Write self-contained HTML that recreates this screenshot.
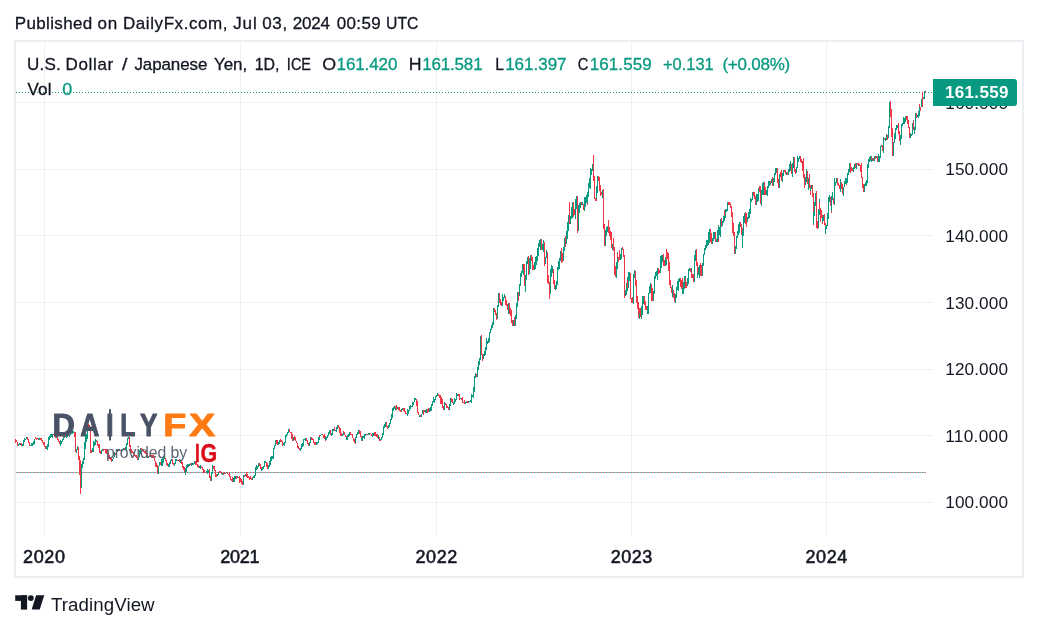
<!DOCTYPE html>
<html><head><meta charset="utf-8"><title>USDJPY chart</title>
<style>
html,body{margin:0;padding:0;background:#fff;}
body{width:1038px;height:630px;position:relative;overflow:hidden;}
#frame{position:absolute;left:14px;top:40px;width:1006px;height:534px;border:2px solid #eceef3;}
svg{position:absolute;left:0;top:0;font-family:"Liberation Sans",sans-serif;}
</style></head><body>
<div id="frame"></div>
<svg width="1038" height="630" viewBox="0 0 1038 630">
<rect x="44" y="42" width="1" height="493" fill="#f0f0f2"/><rect x="240" y="42" width="1" height="493" fill="#f0f0f2"/><rect x="436" y="42" width="1" height="493" fill="#f0f0f2"/><rect x="631" y="42" width="1" height="493" fill="#f0f0f2"/><rect x="826" y="42" width="1" height="493" fill="#f0f0f2"/><rect x="16" y="102" width="917" height="1" fill="#f0f0f2"/><rect x="16" y="169" width="917" height="1" fill="#f0f0f2"/><rect x="16" y="235" width="917" height="1" fill="#f0f0f2"/><rect x="16" y="302" width="917" height="1" fill="#f0f0f2"/><rect x="16" y="369" width="917" height="1" fill="#f0f0f2"/><rect x="16" y="435" width="917" height="1" fill="#f0f0f2"/><rect x="16" y="502" width="917" height="1" fill="#f0f0f2"/>
<line x1="16" y1="472.5" x2="926" y2="472.5" stroke="#4db8a9" stroke-width="1" opacity="0.5"/>
<line x1="16" y1="472.5" x2="926" y2="472.5" stroke="#f23645" stroke-width="1" stroke-dasharray="1.2 1.8" opacity="0.75"/>
<line x1="17.5" y1="472.5" x2="926" y2="472.5" stroke="#089981" stroke-width="1" stroke-dasharray="1 2" opacity="0.5"/>
<line x1="16" y1="92.5" x2="933" y2="92.5" stroke="#089981" stroke-width="1" stroke-dasharray="1 2"/>
<g stroke-width="1" fill="none" shape-rendering="crispEdges"><path d="M15.5 439V443M16.5 440V442M17.5 442V444M17.5 442V446" stroke="#f23645"/><path d="M18.5 444V446M19.5 443V445M20.5 443V445" stroke="#089981"/><path d="M20.5 443V444M21.5 443V446" stroke="#f23645"/><path d="M22.5 444V446M23.5 440V446M23.5 440V444M24.5 438V442M25.5 439V440M26.5 438V439M26.5 437V439" stroke="#089981"/><path d="M27.5 437V440M28.5 439V443M29.5 442V446M29.5 444V446" stroke="#f23645"/><path d="M30.5 445V446M31.5 443V446M32.5 443V446M32.5 443V445M33.5 441V445M34.5 439V444M35.5 438V439" stroke="#089981"/><path d="M35.5 437V439M36.5 438V440M37.5 438V439" stroke="#f23645"/><path d="M38.5 438V440" stroke="#089981"/><path d="M38.5 439V440" stroke="#f23645"/><path d="M39.5 438V440" stroke="#089981"/><path d="M40.5 438V440M41.5 438V439M41.5 438V441M42.5 440V443M43.5 442V445M44.5 442V446M44.5 444V447M45.5 446V449" stroke="#f23645"/><path d="M46.5 446V449" stroke="#089981"/><path d="M47.5 447V450" stroke="#f23645"/><path d="M47.5 444V450M48.5 437V447M49.5 436V440M50.5 436V438M50.5 434V437M51.5 434V437M52.5 434V438" stroke="#089981"/><path d="M53.5 434V435M54.5 434V436M54.5 434V437M55.5 434V438" stroke="#f23645"/><path d="M56.5 436V438" stroke="#089981"/><path d="M57.5 436V440M57.5 437V440M58.5 439V442M59.5 441V444M60.5 442V445" stroke="#f23645"/><path d="M60.5 440V446M61.5 441V444M62.5 439V442M63.5 436V440" stroke="#089981"/><path d="M63.5 437V438" stroke="#f23645"/><path d="M64.5 436V438" stroke="#089981"/><path d="M65.5 436V437" stroke="#f23645"/><path d="M66.5 435V438M66.5 436V437M67.5 435V437" stroke="#089981"/><path d="M68.5 435V436" stroke="#f23645"/><path d="M69.5 435V436M69.5 434V437M70.5 434V435M71.5 432V434" stroke="#089981"/><path d="M72.5 431V434" stroke="#f23645"/><path d="M72.5 431V434M73.5 431V433" stroke="#089981"/><path d="M74.5 432V437M75.5 432V441M75.5 439V452" stroke="#f23645"/><path d="M76.5 449V453M77.5 446V450" stroke="#089981"/><path d="M78.5 447V452M78.5 451V460M79.5 456V475M80.5 460V494" stroke="#f23645"/><path d="M81.5 464V488M81.5 464V472M82.5 461V468M83.5 458V464M84.5 449V460M84.5 442V452M85.5 434V449M86.5 434V442M87.5 429V439M87.5 425V433" stroke="#089981"/><path d="M88.5 424V427M89.5 425V429M90.5 427V447M90.5 444V453M91.5 450V453" stroke="#f23645"/><path d="M92.5 448V452M93.5 446V452M93.5 441V448M94.5 442V446M95.5 439V445M96.5 440V442" stroke="#089981"/><path d="M96.5 441V442M97.5 441V446M98.5 444V448M99.5 444V450M99.5 448V453M100.5 451V454" stroke="#f23645"/><path d="M101.5 450V454M102.5 449V451M102.5 449V451" stroke="#089981"/><path d="M103.5 449V451M104.5 449V450M105.5 450V452M105.5 449V453M106.5 449V454M107.5 453V455M108.5 452V459M108.5 455V457M109.5 455V459M110.5 457V460M111.5 458V461M111.5 459V462" stroke="#f23645"/><path d="M112.5 459V461M113.5 457V459M114.5 455V457M114.5 452V456" stroke="#089981"/><path d="M115.5 453V455" stroke="#f23645"/><path d="M116.5 451V453M117.5 449V452M118.5 449V451" stroke="#089981"/><path d="M118.5 449V451" stroke="#f23645"/><path d="M119.5 449V451" stroke="#089981"/><path d="M120.5 450V451" stroke="#f23645"/><path d="M121.5 450V451M121.5 449V451M122.5 449V450M123.5 448V450" stroke="#089981"/><path d="M124.5 448V450M124.5 449V450" stroke="#f23645"/><path d="M125.5 447V450M126.5 443V450M127.5 440V445M127.5 438V442M128.5 437V439" stroke="#089981"/><path d="M129.5 437V447M130.5 445V452M130.5 449V451M131.5 449V453M132.5 451V453M133.5 452V455M133.5 453V457M134.5 454V456M135.5 455V457M136.5 455V457M136.5 457V458M137.5 457V460" stroke="#f23645"/><path d="M138.5 456V460M139.5 453V457M139.5 450V457M140.5 448V454" stroke="#089981"/><path d="M141.5 448V450M142.5 449V450M142.5 450V451M143.5 450V452M144.5 451V453M145.5 451V453M145.5 452V454M146.5 453V455M147.5 453V458" stroke="#f23645"/><path d="M148.5 456V458M148.5 456V457" stroke="#089981"/><path d="M149.5 455V457" stroke="#f23645"/><path d="M150.5 456V457M151.5 455V457" stroke="#089981"/><path d="M151.5 455V458M152.5 455V458M153.5 455V458M154.5 456V458M154.5 456V461M155.5 461V467M156.5 463V467M157.5 465V471M157.5 467V474" stroke="#f23645"/><path d="M158.5 466V474M159.5 462V466" stroke="#089981"/><path d="M160.5 462V465M160.5 462V465" stroke="#f23645"/><path d="M161.5 459V466M162.5 458V466M163.5 456V463M163.5 456V461M164.5 457V459" stroke="#089981"/><path d="M165.5 458V461M166.5 460V462M166.5 461V465M167.5 463V466" stroke="#f23645"/><path d="M168.5 464V467M169.5 463V467M169.5 462V467M170.5 460V464M171.5 459V461" stroke="#089981"/><path d="M172.5 459V461M172.5 460V464M173.5 463V465" stroke="#f23645"/><path d="M174.5 463V466M175.5 461V464M175.5 459V464M176.5 459V461" stroke="#089981"/><path d="M177.5 460V461" stroke="#f23645"/><path d="M178.5 460V461" stroke="#089981"/><path d="M179.5 459V461M179.5 460V462" stroke="#f23645"/><path d="M180.5 460V463" stroke="#089981"/><path d="M181.5 460V464M182.5 462V466M182.5 465V468M183.5 466V470M184.5 467V472M185.5 471V475" stroke="#f23645"/><path d="M185.5 468V475M186.5 465V472M187.5 464V468" stroke="#089981"/><path d="M188.5 464V467" stroke="#f23645"/><path d="M188.5 464V466M189.5 464V466" stroke="#089981"/><path d="M190.5 463V465" stroke="#f23645"/><path d="M191.5 463V466M191.5 464V465M192.5 463V465M193.5 463V465" stroke="#089981"/><path d="M194.5 461V463" stroke="#f23645"/><path d="M194.5 461V464" stroke="#089981"/><path d="M195.5 461V465M196.5 462V465M197.5 464V465M197.5 465V467M198.5 465V468" stroke="#f23645"/><path d="M199.5 466V468M200.5 466V469M200.5 465V468" stroke="#089981"/><path d="M201.5 466V468M202.5 467V470M203.5 469V473M203.5 471V472M204.5 470V473" stroke="#f23645"/><path d="M205.5 472V473M206.5 471V473" stroke="#089981"/><path d="M206.5 472V473" stroke="#f23645"/><path d="M207.5 469V474M208.5 470V473" stroke="#089981"/><path d="M209.5 469V474M209.5 472V478M210.5 476V481" stroke="#f23645"/><path d="M211.5 472V481M212.5 467V474M212.5 465V469" stroke="#089981"/><path d="M213.5 466V469M214.5 466V471M215.5 470V477M215.5 471V475M216.5 474V477" stroke="#f23645"/><path d="M217.5 474V476M218.5 472V475M218.5 472V473" stroke="#089981"/><path d="M219.5 471V473M220.5 471V473M221.5 472V474" stroke="#f23645"/><path d="M221.5 473V474M222.5 473V475" stroke="#089981"/><path d="M223.5 473V475M224.5 472V474" stroke="#f23645"/><path d="M224.5 473V474" stroke="#089981"/><path d="M225.5 473V474" stroke="#f23645"/><path d="M226.5 472V473M227.5 472V473" stroke="#089981"/><path d="M227.5 472V474M228.5 474V475M229.5 473V477M230.5 476V479M230.5 478V480M231.5 479V481M232.5 477V482" stroke="#f23645"/><path d="M233.5 480V482M233.5 478V481M234.5 476V482M235.5 476V479M236.5 476V478" stroke="#089981"/><path d="M236.5 476V479" stroke="#f23645"/><path d="M237.5 476V478" stroke="#089981"/><path d="M238.5 477V478M239.5 476V480M239.5 478V483M240.5 478V482M241.5 479V484M242.5 481V485" stroke="#f23645"/><path d="M243.5 479V485M243.5 475V483" stroke="#089981"/><path d="M244.5 475V477" stroke="#f23645"/><path d="M245.5 474V476M246.5 472V475" stroke="#089981"/><path d="M246.5 472V477M247.5 474V478M248.5 476V478M249.5 477V478M249.5 478V480M250.5 476V479M251.5 478V480" stroke="#f23645"/><path d="M252.5 477V480" stroke="#089981"/><path d="M252.5 477V478" stroke="#f23645"/><path d="M253.5 476V478M254.5 475V478M255.5 471V476M255.5 467V473M256.5 465V470M257.5 466V469M258.5 464V467M258.5 463V467" stroke="#089981"/><path d="M259.5 463V466M260.5 464V469M261.5 467V471" stroke="#f23645"/><path d="M261.5 469V471M262.5 467V470M263.5 466V469M264.5 463V467M264.5 461V465M265.5 461V463" stroke="#089981"/><path d="M266.5 462V467M267.5 463V466M267.5 465V469" stroke="#f23645"/><path d="M268.5 465V469M269.5 461V467M270.5 460V465M270.5 457V463M271.5 456V461M272.5 456V459M273.5 454V459M273.5 448V455M274.5 445V449M275.5 440V446" stroke="#089981"/><path d="M276.5 440V442M276.5 442V444M277.5 440V445" stroke="#f23645"/><path d="M278.5 442V445M279.5 441V444M279.5 440V442" stroke="#089981"/><path d="M280.5 439V442M281.5 440V442M282.5 442V443M282.5 441V446" stroke="#f23645"/><path d="M283.5 443V445M284.5 442V446M285.5 435V443M285.5 436V440M286.5 434V437M287.5 432V435M288.5 429V433M288.5 430V432" stroke="#089981"/><path d="M289.5 429V432M290.5 432V433M291.5 432V436M291.5 435V439M292.5 434V441" stroke="#f23645"/><path d="M293.5 437V441M294.5 436V438" stroke="#089981"/><path d="M294.5 436V440M295.5 437V441M296.5 441V443M297.5 443V445M297.5 443V448M298.5 446V449M299.5 448V450M300.5 448V451" stroke="#f23645"/><path d="M300.5 448V451M301.5 444V449M302.5 443V447M303.5 442V446M303.5 439V443M304.5 439V440M305.5 438V441" stroke="#089981"/><path d="M306.5 438V441M307.5 440V444M307.5 441V444M308.5 443V446" stroke="#f23645"/><path d="M309.5 442V446M310.5 440V443M310.5 437V441" stroke="#089981"/><path d="M311.5 437V440M312.5 438V440M313.5 439V443M313.5 440V442M314.5 442V445M315.5 442V445M316.5 443V445" stroke="#f23645"/><path d="M316.5 442V445M317.5 442V444M318.5 437V443M319.5 436V440" stroke="#089981"/><path d="M319.5 435V437" stroke="#f23645"/><path d="M320.5 435V436M321.5 434V435" stroke="#089981"/><path d="M322.5 434V435M322.5 434V435M323.5 435V438M324.5 434V439M325.5 436V441" stroke="#f23645"/><path d="M325.5 437V440M326.5 437V440M327.5 435V438M328.5 432V436M328.5 432V435M329.5 430V434" stroke="#089981"/><path d="M330.5 430V435M331.5 433V436" stroke="#f23645"/><path d="M331.5 433V436M332.5 429V435M333.5 429V431" stroke="#089981"/><path d="M334.5 430V431M334.5 427V431" stroke="#f23645"/><path d="M335.5 430V431M336.5 427V432M337.5 425V429M337.5 425V427" stroke="#089981"/><path d="M338.5 425V428M339.5 427V433M340.5 428V434M340.5 429V436M341.5 433V436" stroke="#f23645"/><path d="M342.5 434V436M343.5 432V435" stroke="#089981"/><path d="M343.5 431V433M344.5 432V435M345.5 435V437M346.5 436V440" stroke="#f23645"/><path d="M346.5 437V440M347.5 435V440M348.5 434V437M349.5 432V436M349.5 432V433" stroke="#089981"/><path d="M350.5 432V435M351.5 434V435M352.5 434V438M352.5 436V438M353.5 438V441M354.5 439V443M355.5 438V444" stroke="#f23645"/><path d="M355.5 437V443M356.5 434V438M357.5 432V435M358.5 430V434M358.5 430V432" stroke="#089981"/><path d="M359.5 430V434M360.5 431V437M361.5 436V441" stroke="#f23645"/><path d="M361.5 438V440M362.5 436V441M363.5 436V438M364.5 435V439M364.5 434V436M365.5 434V436" stroke="#089981"/><path d="M366.5 434V435" stroke="#f23645"/><path d="M367.5 434V435M368.5 433V435" stroke="#089981"/><path d="M368.5 434V435" stroke="#f23645"/><path d="M369.5 433V435" stroke="#089981"/><path d="M370.5 433V434M371.5 434V435M371.5 434V436" stroke="#f23645"/><path d="M372.5 433V437M373.5 433V436M374.5 432V435" stroke="#089981"/><path d="M374.5 432V436M375.5 432V436M376.5 434V437M377.5 434V437M377.5 435V438" stroke="#f23645"/><path d="M378.5 435V439" stroke="#089981"/><path d="M379.5 437V441" stroke="#f23645"/><path d="M380.5 439V440" stroke="#089981"/><path d="M380.5 440V441" stroke="#f23645"/><path d="M381.5 437V440M382.5 433V438M383.5 430V435M383.5 426V431M384.5 424V428M385.5 422V427" stroke="#089981"/><path d="M386.5 422V426M386.5 424V427M387.5 426V429" stroke="#f23645"/><path d="M388.5 425V428M389.5 424V427M389.5 423V426M390.5 419V424M391.5 414V420M392.5 410V418M392.5 408V412M393.5 407V411M394.5 406V409M395.5 406V410" stroke="#089981"/><path d="M395.5 406V408M396.5 405V410" stroke="#f23645"/><path d="M397.5 407V409" stroke="#089981"/><path d="M398.5 408V410M398.5 407V410M399.5 407V411M400.5 410V412M401.5 410V412" stroke="#f23645"/><path d="M401.5 409V411M402.5 408V410" stroke="#089981"/><path d="M403.5 408V411M404.5 408V411M404.5 410V412M405.5 411V414M406.5 413V414M407.5 411V416" stroke="#f23645"/><path d="M407.5 409V416M408.5 410V414M409.5 406V411M410.5 407V409M410.5 405V409M411.5 406V407M412.5 402V407M413.5 403V405M413.5 402V404M414.5 398V402M415.5 398V400" stroke="#089981"/><path d="M416.5 399V403M416.5 399V406M417.5 401V413M418.5 412V415M419.5 415V417" stroke="#f23645"/><path d="M419.5 415V417" stroke="#089981"/><path d="M420.5 415V417" stroke="#f23645"/><path d="M421.5 414V417M422.5 410V414M422.5 410V413" stroke="#089981"/><path d="M423.5 410V415M424.5 410V412M425.5 412V413" stroke="#f23645"/><path d="M425.5 410V413M426.5 409V413" stroke="#089981"/><path d="M427.5 409V413M428.5 408V410M428.5 409V412" stroke="#f23645"/><path d="M429.5 408V412M430.5 407V411M431.5 404V411M432.5 403V406M432.5 401V405M433.5 397V402M434.5 399V403M435.5 398V400M435.5 396V398M436.5 395V397M437.5 393V396" stroke="#089981"/><path d="M438.5 394V395M438.5 394V396M439.5 395V398M440.5 395V404M441.5 397V401M441.5 399V404M442.5 399V408M443.5 406V410" stroke="#f23645"/><path d="M444.5 404V410M444.5 402V405" stroke="#089981"/><path d="M445.5 403V405M446.5 404V408M447.5 406V408M447.5 406V408M448.5 407V410" stroke="#f23645"/><path d="M449.5 404V410M450.5 398V406M450.5 398V403" stroke="#089981"/><path d="M451.5 398V402M452.5 399V403M453.5 402V404" stroke="#f23645"/><path d="M453.5 402V405M454.5 398V404M455.5 399V402M456.5 397V400M456.5 393V399M457.5 394V396" stroke="#089981"/><path d="M458.5 394V396M459.5 394V397M459.5 397V400" stroke="#f23645"/><path d="M460.5 398V399" stroke="#089981"/><path d="M461.5 398V400M462.5 397V402M462.5 401V403M463.5 402V403M464.5 400V404" stroke="#f23645"/><path d="M465.5 403V404M465.5 402V404M466.5 401V403" stroke="#089981"/><path d="M467.5 401V403M468.5 401V403" stroke="#f23645"/><path d="M468.5 401V402M469.5 401V402M470.5 400V402M471.5 398V403M471.5 394V400M472.5 395V397M473.5 387V398M474.5 379V392M474.5 376V390M475.5 373V378" stroke="#089981"/><path d="M476.5 374V377" stroke="#f23645"/><path d="M477.5 371V377M477.5 367V375M478.5 361V370M479.5 358V365M480.5 345V360M480.5 336V349" stroke="#089981"/><path d="M481.5 335V355M482.5 354V361M483.5 354V358" stroke="#f23645"/><path d="M483.5 354V359M484.5 351V356M485.5 347V355M486.5 343V350M486.5 338V345M487.5 341V344M488.5 338V343M489.5 333V342M489.5 332V337M490.5 329V333M491.5 325V330M492.5 322V328M493.5 316V323M493.5 308V325" stroke="#089981"/><path d="M494.5 308V312M495.5 310V315M496.5 313V316M496.5 314V320" stroke="#f23645"/><path d="M497.5 305V319M498.5 293V307" stroke="#089981"/><path d="M499.5 293V302M499.5 297V303M500.5 299V305M501.5 302V306" stroke="#f23645"/><path d="M502.5 294V306M502.5 297V304M503.5 297V301M504.5 294V298" stroke="#089981"/><path d="M505.5 296V301M505.5 299V305M506.5 300V306M507.5 304V310" stroke="#f23645"/><path d="M508.5 306V310M508.5 303V314" stroke="#089981"/><path d="M509.5 303V314M510.5 308V316M511.5 310V319M511.5 317V323M512.5 320V326" stroke="#f23645"/><path d="M513.5 320V326M514.5 319V323" stroke="#089981"/><path d="M514.5 317V326" stroke="#f23645"/><path d="M515.5 315V326M516.5 303V319M517.5 296V307M517.5 292V302" stroke="#089981"/><path d="M518.5 292V301" stroke="#f23645"/><path d="M519.5 284V296M520.5 276V286M520.5 273V281M521.5 271V277M522.5 264V273M523.5 264V275" stroke="#089981"/><path d="M523.5 264V270M524.5 264V286" stroke="#f23645"/><path d="M525.5 275V292M526.5 268V280M526.5 261V271M527.5 257V264" stroke="#089981"/><path d="M528.5 256V275" stroke="#f23645"/><path d="M529.5 266V274M529.5 258V274M530.5 255V269" stroke="#089981"/><path d="M531.5 255V261M532.5 257V263M532.5 259V270M533.5 265V270" stroke="#f23645"/><path d="M534.5 262V270M535.5 262V269M535.5 257V266M536.5 256V265M537.5 248V261M538.5 245V256M538.5 243V251M539.5 240V247M540.5 239V250" stroke="#089981"/><path d="M541.5 239V250M541.5 241V249" stroke="#f23645"/><path d="M542.5 244V250M543.5 240V252" stroke="#089981"/><path d="M544.5 242V258M544.5 255V266" stroke="#f23645"/><path d="M545.5 257V264M546.5 250V258" stroke="#089981"/><path d="M547.5 252V267M547.5 264V283M548.5 275V284M549.5 282V299" stroke="#f23645"/><path d="M550.5 284V294M550.5 269V285M551.5 265V277M552.5 266V273" stroke="#089981"/><path d="M553.5 269V280M553.5 276V284M554.5 280V289" stroke="#f23645"/><path d="M555.5 285V290M556.5 281V289M557.5 270V285M557.5 267V276M558.5 261V270M559.5 258V269M560.5 253V261M560.5 251V258" stroke="#089981"/><path d="M561.5 248V263M562.5 253V262" stroke="#f23645"/><path d="M563.5 255V261M563.5 247V259M564.5 238V251" stroke="#089981"/><path d="M565.5 236V247" stroke="#f23645"/><path d="M566.5 235V242M566.5 231V244M567.5 222V239M568.5 215V231M569.5 202V215" stroke="#089981"/><path d="M569.5 202V224" stroke="#f23645"/><path d="M570.5 216V224M571.5 207V219M572.5 205V218M572.5 202V209" stroke="#089981"/><path d="M573.5 202V217M574.5 209V215" stroke="#f23645"/><path d="M575.5 210V219M575.5 199V216M576.5 196V209" stroke="#089981"/><path d="M577.5 196V233" stroke="#f23645"/><path d="M578.5 218V231M578.5 205V224M579.5 203V213M580.5 202V208" stroke="#089981"/><path d="M581.5 202V203M581.5 202V205" stroke="#f23645"/><path d="M582.5 202V205" stroke="#089981"/><path d="M583.5 204V210M584.5 205V210" stroke="#f23645"/><path d="M584.5 197V211M585.5 197V207M586.5 195V203" stroke="#089981"/><path d="M587.5 192V205" stroke="#f23645"/><path d="M587.5 192V203M588.5 183V197M589.5 178V188M590.5 172V189M590.5 168V180M591.5 169V175M592.5 164V171M593.5 155V171" stroke="#089981"/><path d="M593.5 155V181M594.5 176V199M595.5 198V201M596.5 196V201" stroke="#f23645"/><path d="M596.5 186V199M597.5 176V193" stroke="#089981"/><path d="M598.5 176V181M599.5 177V184M599.5 178V191M600.5 185V196M601.5 192V195" stroke="#f23645"/><path d="M602.5 191V198M602.5 190V193" stroke="#089981"/><path d="M603.5 189V229M604.5 224V246" stroke="#f23645"/><path d="M605.5 230V246M605.5 234V244M606.5 227V236M607.5 226V232M608.5 222V227" stroke="#089981"/><path d="M608.5 220V233M609.5 227V236M610.5 231V240M611.5 234V245M611.5 232V248" stroke="#f23645"/><path d="M612.5 244V250" stroke="#089981"/><path d="M613.5 238V251M614.5 247V257M614.5 256V275M615.5 266V277" stroke="#f23645"/><path d="M616.5 262V278M617.5 252V269" stroke="#089981"/><path d="M617.5 253V258M618.5 257V262M619.5 250V260" stroke="#f23645"/><path d="M620.5 254V260M621.5 248V259M621.5 248V253" stroke="#089981"/><path d="M622.5 247V250M623.5 249V257M624.5 255V274M624.5 268V298" stroke="#f23645"/><path d="M625.5 290V296M626.5 283V295M627.5 277V291" stroke="#089981"/><path d="M627.5 280V288" stroke="#f23645"/><path d="M628.5 272V288M629.5 272V281" stroke="#089981"/><path d="M630.5 273V288M630.5 283V299M631.5 298V303M632.5 297V303" stroke="#f23645"/><path d="M633.5 285V304M633.5 274V294M634.5 270V278" stroke="#089981"/><path d="M635.5 271V286M636.5 280V298M636.5 287V303M637.5 296V309M638.5 302V318M639.5 308V319" stroke="#f23645"/><path d="M639.5 313V319" stroke="#089981"/><path d="M640.5 308V317" stroke="#f23645"/><path d="M641.5 306V319M642.5 296V315M642.5 297V305M643.5 296V304" stroke="#089981"/><path d="M644.5 296V305M645.5 301V308M645.5 301V310M646.5 306V310" stroke="#f23645"/><path d="M647.5 306V314M648.5 297V314M648.5 293V299M649.5 286V294M650.5 283V293" stroke="#089981"/><path d="M651.5 284V290M651.5 285V301M652.5 288V301" stroke="#f23645"/><path d="M653.5 291V301M654.5 282V294M654.5 276V287M655.5 272V279M656.5 271V276" stroke="#089981"/><path d="M657.5 268V275" stroke="#f23645"/><path d="M657.5 268V280" stroke="#089981"/><path d="M658.5 268V274M659.5 270V273" stroke="#f23645"/><path d="M660.5 261V273M660.5 256V267M661.5 255V268M662.5 255V262" stroke="#089981"/><path d="M663.5 254V261M663.5 257V266M664.5 260V266" stroke="#f23645"/><path d="M665.5 257V266M666.5 249V265" stroke="#089981"/><path d="M666.5 249V260M667.5 252V259M668.5 253V271M669.5 262V281M669.5 266V285M670.5 280V288M671.5 287V293M672.5 290V297" stroke="#f23645"/><path d="M672.5 285V297" stroke="#089981"/><path d="M673.5 290V298M674.5 293V302" stroke="#f23645"/><path d="M675.5 300V303M675.5 294V303M676.5 287V298M677.5 281V290M678.5 283V291M678.5 279V285M679.5 278V282" stroke="#089981"/><path d="M680.5 278V287M681.5 280V289M682.5 278V294" stroke="#f23645"/><path d="M682.5 288V294M683.5 282V294M684.5 276V289M685.5 276V281" stroke="#089981"/><path d="M685.5 278V288M686.5 282V288" stroke="#f23645"/><path d="M687.5 278V286M688.5 272V284M688.5 269V276M689.5 268V271" stroke="#089981"/><path d="M690.5 268V272" stroke="#f23645"/><path d="M691.5 268V276" stroke="#089981"/><path d="M691.5 271V278M692.5 274V278M693.5 274V282" stroke="#f23645"/><path d="M694.5 267V282M694.5 255V270M695.5 250V261" stroke="#089981"/><path d="M696.5 249V266M697.5 262V278" stroke="#f23645"/><path d="M697.5 273V278M698.5 267V275M699.5 265V278" stroke="#089981"/><path d="M700.5 263V272M700.5 267V276M701.5 265V276" stroke="#f23645"/><path d="M702.5 263V276M703.5 258V266M703.5 254V262M704.5 248V255M705.5 245V250" stroke="#089981"/><path d="M706.5 245V247" stroke="#f23645"/><path d="M706.5 240V248M707.5 240V246M708.5 232V245M709.5 229V243M709.5 230V236" stroke="#089981"/><path d="M710.5 229V242M711.5 233V244M712.5 238V244" stroke="#f23645"/><path d="M712.5 238V244M713.5 232V241M714.5 232V239" stroke="#089981"/><path d="M715.5 232V238M715.5 234V242" stroke="#f23645"/><path d="M716.5 239V242M717.5 230V242" stroke="#089981"/><path d="M718.5 235V242" stroke="#f23645"/><path d="M718.5 225V239M719.5 227V235M720.5 219V237M721.5 222V227" stroke="#089981"/><path d="M721.5 218V226" stroke="#f23645"/><path d="M722.5 221V226M723.5 216V223M724.5 212V221" stroke="#089981"/><path d="M724.5 210V216" stroke="#f23645"/><path d="M725.5 209V218M726.5 209V212M727.5 205V211M727.5 202V207" stroke="#089981"/><path d="M728.5 202V205M729.5 202V205" stroke="#f23645"/><path d="M730.5 204V206" stroke="#089981"/><path d="M730.5 203V208M731.5 206V217M732.5 212V233M733.5 224V232M733.5 223V236M734.5 232V254" stroke="#f23645"/><path d="M735.5 246V254M736.5 241V249M736.5 236V242M737.5 231V238M738.5 224V235M739.5 222V233M739.5 222V225" stroke="#089981"/><path d="M740.5 222V227M741.5 224V235M742.5 228V244" stroke="#f23645"/><path d="M742.5 230V248M743.5 216V236M744.5 213V223" stroke="#089981"/><path d="M745.5 212V224M746.5 213V220M746.5 217V227" stroke="#f23645"/><path d="M747.5 217V222M748.5 212V219M749.5 211V217M749.5 209V218M750.5 198V214M751.5 199V202M752.5 195V200M752.5 192V199" stroke="#089981"/><path d="M753.5 192V196M754.5 192V199M755.5 196V204M755.5 197V205" stroke="#f23645"/><path d="M756.5 194V205M757.5 194V202M758.5 191V196M758.5 188V201" stroke="#089981"/><path d="M759.5 186V192M760.5 186V204M761.5 194V204" stroke="#f23645"/><path d="M761.5 190V206M762.5 183V195M763.5 182V195" stroke="#089981"/><path d="M764.5 182V188M764.5 183V195M765.5 187V195" stroke="#f23645"/><path d="M766.5 190V195M767.5 190V196M767.5 186V192M768.5 181V188M769.5 181V186M770.5 181V185" stroke="#089981"/><path d="M770.5 181V183" stroke="#f23645"/><path d="M771.5 179V183" stroke="#089981"/><path d="M772.5 177V186" stroke="#f23645"/><path d="M773.5 180V186M773.5 178V184M774.5 173V182M775.5 168V175" stroke="#089981"/><path d="M776.5 170V173" stroke="#f23645"/><path d="M776.5 168V172" stroke="#089981"/><path d="M777.5 168V183M778.5 179V188" stroke="#f23645"/><path d="M779.5 177V188M779.5 174V183" stroke="#089981"/><path d="M780.5 172V177M781.5 170V181" stroke="#f23645"/><path d="M782.5 178V182M782.5 173V180M783.5 170V176" stroke="#089981"/><path d="M784.5 170V172" stroke="#f23645"/><path d="M785.5 172V174" stroke="#089981"/><path d="M785.5 170V174" stroke="#f23645"/><path d="M786.5 172V175" stroke="#089981"/><path d="M787.5 172V175" stroke="#f23645"/><path d="M788.5 169V175M788.5 169V174M789.5 164V172M790.5 161V171M791.5 164V167" stroke="#089981"/><path d="M791.5 164V174" stroke="#f23645"/><path d="M792.5 163V177M793.5 157V168" stroke="#089981"/><path d="M794.5 157V168M794.5 164V172M795.5 169V174" stroke="#f23645"/><path d="M796.5 167V173M797.5 161V168M797.5 156V165M798.5 158V162M799.5 156V159M800.5 156V162" stroke="#089981"/><path d="M800.5 156V162M801.5 159V163M802.5 161V171M803.5 158V175M803.5 169V178M804.5 174V188" stroke="#f23645"/><path d="M805.5 177V185M806.5 169V182" stroke="#089981"/><path d="M807.5 171V180M807.5 175V184" stroke="#f23645"/><path d="M808.5 178V190" stroke="#089981"/><path d="M809.5 174V188M810.5 185V195" stroke="#f23645"/><path d="M810.5 188V191M811.5 185V189" stroke="#089981"/><path d="M812.5 185V197M813.5 193V225" stroke="#f23645"/><path d="M813.5 212V224M814.5 202V216M815.5 193V206" stroke="#089981"/><path d="M816.5 191V211M816.5 203V228M817.5 221V229" stroke="#f23645"/><path d="M818.5 209V228M819.5 199V215" stroke="#089981"/><path d="M819.5 202V210M820.5 208V222M821.5 210V218M822.5 215V224" stroke="#f23645"/><path d="M822.5 217V222M823.5 215V221" stroke="#089981"/><path d="M824.5 214V225M825.5 223V234" stroke="#f23645"/><path d="M825.5 226V234M826.5 225V229M827.5 213V226M828.5 202V219M828.5 197V210M829.5 195V202" stroke="#089981"/><path d="M830.5 197V206M831.5 198V213" stroke="#f23645"/><path d="M831.5 196V211M832.5 192V200" stroke="#089981"/><path d="M833.5 198V204" stroke="#f23645"/><path d="M834.5 187V205M834.5 178V194M835.5 182V186M836.5 178V183" stroke="#089981"/><path d="M837.5 178V182M837.5 180V185M838.5 183V186M839.5 185V189" stroke="#f23645"/><path d="M840.5 183V192M840.5 179V186" stroke="#089981"/><path d="M841.5 182V189M842.5 184V194" stroke="#f23645"/><path d="M843.5 192V196M843.5 187V193M844.5 181V187M845.5 178V184" stroke="#089981"/><path d="M846.5 180V185" stroke="#f23645"/><path d="M846.5 178V184M847.5 173V183M848.5 169V175M849.5 166V172M849.5 163V166" stroke="#089981"/><path d="M850.5 163V173M851.5 167V171" stroke="#f23645"/><path d="M852.5 168V171" stroke="#089981"/><path d="M852.5 169V171" stroke="#f23645"/><path d="M853.5 167V172M854.5 164V169M855.5 164V167" stroke="#089981"/><path d="M855.5 163V168" stroke="#f23645"/><path d="M856.5 163V169" stroke="#089981"/><path d="M857.5 163V165" stroke="#f23645"/><path d="M858.5 163V166" stroke="#089981"/><path d="M858.5 163V165M859.5 164V166M860.5 165V172M861.5 163V178M861.5 168V178M862.5 177V188M863.5 184V192" stroke="#f23645"/><path d="M864.5 186V192M864.5 184V188M865.5 182V186M866.5 180V186M867.5 176V183M867.5 164V178M868.5 159V168M869.5 157V162M870.5 156V161M871.5 156V162" stroke="#089981"/><path d="M871.5 157V160" stroke="#f23645"/><path d="M872.5 158V161" stroke="#089981"/><path d="M873.5 158V161" stroke="#f23645"/><path d="M874.5 158V161M874.5 156V159" stroke="#089981"/><path d="M875.5 156V159" stroke="#f23645"/><path d="M876.5 156V158" stroke="#089981"/><path d="M877.5 156V161M877.5 158V162" stroke="#f23645"/><path d="M878.5 154V162M879.5 156V162M880.5 153V158M880.5 146V155M881.5 145V147" stroke="#089981"/><path d="M882.5 145V151" stroke="#f23645"/><path d="M883.5 140V153M883.5 137V142" stroke="#089981"/><path d="M884.5 138V140" stroke="#f23645"/><path d="M885.5 138V141M886.5 138V140M886.5 134V140" stroke="#089981"/><path d="M887.5 135V140" stroke="#f23645"/><path d="M888.5 126V138M889.5 111V128M889.5 102V113" stroke="#089981"/><path d="M890.5 101V117M891.5 109V137M892.5 128V152M892.5 149V156" stroke="#f23645"/><path d="M893.5 142V156M894.5 133V143M895.5 131V139M895.5 128V135M896.5 125V130M897.5 125V128M898.5 123V126" stroke="#089981"/><path d="M898.5 123V134M899.5 131V141" stroke="#f23645"/><path d="M900.5 135V145M901.5 127V139M901.5 124V131M902.5 123V126M903.5 117V124M904.5 120V124M904.5 118V122M905.5 116V122" stroke="#089981"/><path d="M906.5 116V120M907.5 116V122M907.5 118V124M908.5 120V128M909.5 127V138M910.5 135V138" stroke="#f23645"/><path d="M910.5 133V138M911.5 134V136M912.5 123V135M913.5 120V124" stroke="#089981"/><path d="M913.5 121V130" stroke="#f23645"/><path d="M914.5 127V134M915.5 113V130" stroke="#089981"/><path d="M916.5 113V118M916.5 115V116" stroke="#f23645"/><path d="M917.5 115V117M918.5 111V118M919.5 104V116" stroke="#089981"/><path d="M919.5 104V107M920.5 107V111" stroke="#f23645"/><path d="M921.5 99V107M922.5 96V103" stroke="#089981"/><path d="M922.5 92V107" stroke="#f23645"/><path d="M923.5 97V99M924.5 91V99" stroke="#089981"/><path d="M925.5 91V92" stroke="#f23645"/></g>
<g font-size="31" font-weight="bold"><text transform="translate(52.41 435.7) scale(1.000 1)" fill="#4a5366" stroke="#4a5366" stroke-width="0.9" stroke-linejoin="round">D</text><text transform="translate(80.34 435.7) scale(0.854 1)" fill="#4a5366" stroke="#4a5366" stroke-width="0.9" stroke-linejoin="round">A</text><text transform="translate(106.11 435.7) scale(0.896 1)" fill="#4a5366" stroke="#4a5366" stroke-width="0.9" stroke-linejoin="round">I</text><text transform="translate(120.19 435.7) scale(0.806 1)" fill="#4a5366" stroke="#4a5366" stroke-width="0.9" stroke-linejoin="round">L</text><text transform="translate(140.04 435.7) scale(0.844 1)" fill="#4a5366" stroke="#4a5366" stroke-width="0.9" stroke-linejoin="round">Y</text><text transform="translate(163.30 435.7) scale(1.213 1)" fill="#ff7a12" stroke="#ff7a12" stroke-width="0.9" stroke-linejoin="round">F</text><text transform="translate(189.35 435.7) scale(1.250 1)" fill="#ff7a12" stroke="#ff7a12" stroke-width="0.9" stroke-linejoin="round">X</text><rect x="109" y="409.2" width="2" height="31.2" fill="#4a5366"/></g>
<text x="105.91" y="457.8" font-size="15.8" font-weight="normal" fill="#5b6372" letter-spacing="-0.04">provided by</text><text transform="translate(195.12 461.7) scale(0.692 1)" font-size="25" font-weight="bold" fill="#dc0c18" stroke="#dc0c18" stroke-width="0.4">I</text><text transform="translate(200.53 461.7) scale(0.860 1)" font-size="25" font-weight="bold" fill="#dc0c18" stroke="#dc0c18" stroke-width="0.4">G</text>
<text x="14.77" y="28.7" font-size="17" font-weight="normal" fill="#131722" letter-spacing="0.352" stroke="#131722" stroke-width="0.3">Published</text><text x="97.47" y="28.7" font-size="17" font-weight="normal" fill="#131722" letter-spacing="0.777" stroke="#131722" stroke-width="0.3">on</text><text x="122.97" y="28.7" font-size="17" font-weight="normal" fill="#131722" letter-spacing="0.579" stroke="#131722" stroke-width="0.3">DailyFx.com,</text><text x="233.13" y="28.7" font-size="17" font-weight="normal" fill="#131722" letter-spacing="0.927" stroke="#131722" stroke-width="0.3">Jul</text><text x="262.17" y="28.7" font-size="17" font-weight="normal" fill="#131722" letter-spacing="0.734" stroke="#131722" stroke-width="0.3">03,</text><text x="292.7" y="28.7" font-size="17" font-weight="normal" fill="#131722" letter-spacing="-0.199" stroke="#131722" stroke-width="0.3">2024</text><text x="336.67" y="28.7" font-size="17" font-weight="normal" fill="#131722" letter-spacing="0.37" stroke="#131722" stroke-width="0.3">00:59</text><text transform="translate(386.12 28.7) scale(0.928 1)" font-size="17" font-weight="normal" fill="#131722" stroke="#131722" stroke-width="0.3">UTC</text><text x="27.04" y="69.6" font-size="17" font-weight="normal" fill="#131722" letter-spacing="0.179" stroke="#131722" stroke-width="0.3">U.S.</text><text x="65.57" y="69.6" font-size="17" font-weight="normal" fill="#131722" letter-spacing="0.642" stroke="#131722" stroke-width="0.3">Dollar</text><text transform="translate(121.89 69.6) scale(1.150 1)" font-size="17" font-weight="normal" fill="#131722" stroke="#131722" stroke-width="0.3">/</text><text x="134.43" y="69.6" font-size="17" font-weight="normal" fill="#131722" letter-spacing="-0.11" stroke="#131722" stroke-width="0.3">Japanese</text><text x="213.93" y="69.6" font-size="17" font-weight="normal" fill="#131722" letter-spacing="-0.025" stroke="#131722" stroke-width="0.3">Yen,</text><text transform="translate(254.71 69.6) scale(0.938 1)" font-size="17" font-weight="normal" fill="#131722" stroke="#131722" stroke-width="0.3">1D,</text><text transform="translate(286.87 69.6) scale(0.852 1)" font-size="17" font-weight="normal" fill="#131722" stroke="#131722" stroke-width="0.3">ICE</text><text transform="translate(322.16 69.6) scale(1.051 1)" font-size="17" font-weight="normal" fill="#131722" stroke="#131722" stroke-width="0.3">O</text><text x="336.54" y="69.6" font-size="17" font-weight="normal" fill="#089981" letter-spacing="-0.094" stroke="#089981" stroke-width="0.3">161.420</text><text transform="translate(408.81 69.6) scale(1.042 1)" font-size="17" font-weight="normal" fill="#131722" stroke="#131722" stroke-width="0.3">H</text><text x="422.24" y="69.6" font-size="17" font-weight="normal" fill="#089981" letter-spacing="-0.183" stroke="#089981" stroke-width="0.3">161.581</text><text transform="translate(495.27 69.6) scale(0.922 1)" font-size="17" font-weight="normal" fill="#131722" stroke="#131722" stroke-width="0.3">L</text><text x="505.14" y="69.6" font-size="17" font-weight="normal" fill="#089981" letter-spacing="0.0" stroke="#089981" stroke-width="0.3">161.397</text><text transform="translate(577.71 69.6) scale(0.862 1)" font-size="17" font-weight="normal" fill="#131722" stroke="#131722" stroke-width="0.3">C</text><text x="589.74" y="69.6" font-size="17" font-weight="normal" fill="#089981" letter-spacing="0.083" stroke="#089981" stroke-width="0.3">161.559</text><text transform="translate(662.93 69.6) scale(0.967 1)" font-size="17" font-weight="normal" fill="#089981" stroke="#089981" stroke-width="0.3">+0.131</text><text x="722.4" y="69.6" font-size="17" font-weight="normal" fill="#089981" letter-spacing="-0.225" stroke="#089981" stroke-width="0.3">(+0.08%)</text><text x="27.4" y="95.2" font-size="17" font-weight="normal" fill="#131722" letter-spacing="0.294" stroke="#131722" stroke-width="0.3">Vol</text><text transform="translate(62.34 95.2) scale(1.059 1)" font-size="17" font-weight="normal" fill="#089981" stroke="#089981" stroke-width="0.3">0</text>
<text x="945.22" y="108.7" font-size="17.2" font-weight="normal" fill="#131722" letter-spacing="0.105">160.000</text><text x="945.22" y="175.32999999999998" font-size="17.2" font-weight="normal" fill="#131722" letter-spacing="0.105">150.000</text><text x="945.22" y="241.95999999999998" font-size="17.2" font-weight="normal" fill="#131722" letter-spacing="0.105">140.000</text><text x="945.22" y="308.59" font-size="17.2" font-weight="normal" fill="#131722" letter-spacing="0.105">130.000</text><text x="945.22" y="375.21999999999997" font-size="17.2" font-weight="normal" fill="#131722" letter-spacing="0.105">120.000</text><text x="945.22" y="441.84999999999997" font-size="17.2" font-weight="normal" fill="#131722" letter-spacing="0.318">110.000</text><text x="945.22" y="508.47999999999996" font-size="17.2" font-weight="normal" fill="#131722" letter-spacing="0.105">100.000</text>
<path d="M933 79h81a3 3 0 0 1 3 3v21a3 3 0 0 1 -3 3h-81z" fill="#089981"/>
<text x="944.94" y="98.3" font-size="17" font-weight="bold" fill="#fff" letter-spacing="0.356">161.559</text>
<text x="23.06" y="563.2" font-size="18" font-weight="normal" fill="#131722" letter-spacing="0.65" stroke="#131722" stroke-width="0.55">2020</text><text x="220.16" y="563.2" font-size="18" font-weight="normal" fill="#131722" letter-spacing="-0.223" stroke="#131722" stroke-width="0.55">2021</text><text x="415.56" y="563.2" font-size="18" font-weight="normal" fill="#131722" letter-spacing="0.543" stroke="#131722" stroke-width="0.55">2022</text><text x="610.76" y="563.2" font-size="18" font-weight="normal" fill="#131722" letter-spacing="0.477" stroke="#131722" stroke-width="0.55">2023</text><text x="805.46" y="563.2" font-size="18" font-weight="normal" fill="#131722" letter-spacing="0.583" stroke="#131722" stroke-width="0.55">2024</text>
<g fill="#131722">
<rect x="15.2" y="595.3" width="11.9" height="5.6"/><rect x="20.9" y="595.3" width="6.2" height="14.3"/>
<circle cx="30.85" cy="598.1" r="2.9"/>
<polygon points="36.1,595.3 44.3,595.3 39.7,609.6 31.7,609.6"/>
</g>
<text x="51.01" y="610.7" font-size="18.7" font-weight="normal" fill="#131722" letter-spacing="0.076">TradingView</text>
</svg>
</body></html>
